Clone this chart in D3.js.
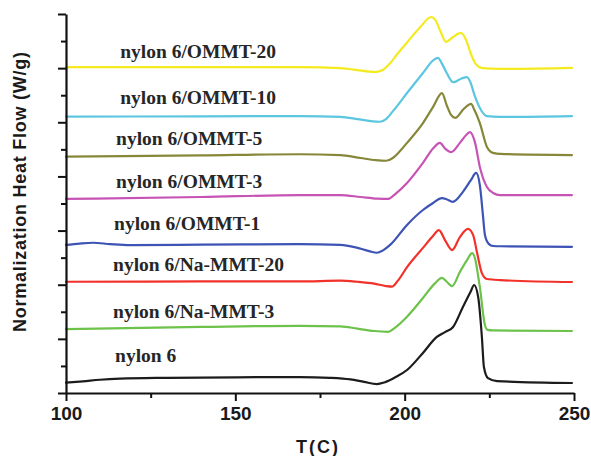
<!DOCTYPE html>
<html><head><meta charset="utf-8">
<script src="https://cdn.jsdelivr.net/npm/d3@7"></script>
<style>body{margin:0;background:#fff}svg{display:block}</style>
</head><body>
<svg id="c" width="591" height="456"></svg>
<script>
// ---- data (T in °C, normalized heat flow, stacked offsets) ----
const seriesNames = ["nylon 6/OMMT-20","nylon 6/OMMT-10","nylon 6/OMMT-5","nylon 6/OMMT-3","nylon 6/OMMT-1","nylon 6/Na-MMT-20","nylon 6/Na-MMT-3","nylon 6"];
const xTickValues = [100,150,200,250];
const xMinorTicks = [125,175,225];
const yTickValues = [0,1,2,3,4,5,6,7,8,9,10,11,12,13,14];

const ommt20 = [[100,12.04],[140,12.04],[169,12.04],[181,12.00],[186,11.93],[189.5,11.87],[191.6,11.86],[193.5,11.93],[195.5,12.15],[198,12.55],[200.7,12.95],[204.5,13.50],[207.8,13.89],[209.2,13.75],[210.6,13.35],[212.2,12.97],[214.3,13.15],[216.6,13.30],[218,13.08],[219.5,12.55],[221,12.15],[223,12.0],[228,11.97],[249.4,12.01]];
const ommt10 = [[100,10.21],[140,10.22],[169,10.23],[181,10.20],[186,10.12],[190,10.04],[192.7,10.02],[194.5,10.12],[196.6,10.42],[200.7,11.08],[205.4,11.82],[208.5,12.30],[209.8,12.38],[211.2,12.12],[212.5,11.8],[214.3,11.48],[216.8,11.62],[218.4,11.67],[219.5,11.45],[220.5,11.05],[222.2,10.53],[224.3,10.23],[228.2,10.20],[249.4,10.23]];
const ommt5 = [[100,8.73],[140,8.78],[169,8.82],[181,8.79],[187,8.68],[191.5,8.60],[194.5,8.58],[196.5,8.68],[198.5,8.92],[200.7,9.24],[205.4,9.97],[208.4,10.57],[211.0,11.08],[212.5,10.6],[213.7,10.27],[214.9,10.16],[217.5,10.50],[219.6,10.68],[220.6,10.45],[222.2,9.97],[224.3,9.09],[226.1,8.87],[228.2,8.83],[249.4,8.79]];
const ommt3 = [[100,7.17],[140,7.24],[169,7.31],[181,7.31],[187,7.24],[192,7.18],[195.2,7.17],[197.2,7.35],[200.7,7.76],[205.4,8.50],[208.5,9.05],[210.4,9.24],[212,9.02],[213.7,8.90],[216.3,9.24],[218.3,9.55],[219.3,9.64],[220.8,9.24],[222.2,8.35],[224.3,7.61],[226.1,7.39],[228.2,7.31],[249.4,7.31]];
const ommt1 = [[100,5.47],[104,5.52],[108,5.55],[113,5.50],[119,5.46],[140,5.48],[169,5.50],[181,5.47],[185.5,5.38],[189.5,5.24],[191.8,5.18],[193.5,5.26],[195.7,5.47],[200.7,6.21],[205.4,6.76],[208.4,7.02],[211.0,7.20],[212.5,7.15],[214.2,7.06],[217.2,7.43],[219.5,7.85],[221.1,8.13],[222.2,7.68],[223.1,6.58],[223.7,5.84],[224.9,5.50],[226.1,5.43],[228.2,5.42],[249.4,5.40]];
const na20 = [[100,4.11],[140,4.12],[169,4.12],[181,4.15],[186,4.11],[191,4.04],[194.5,3.95],[196.3,3.93],[198,4.15],[200.7,4.65],[205.4,5.36],[208.1,5.76],[210.1,6.02],[211.9,5.65],[214.0,5.28],[216.3,5.76],[218.7,6.06],[220.2,5.84],[221.4,5.17],[222.8,4.43],[224.3,4.21],[228.2,4.17],[249.4,4.10]];
const na3 = [[100,2.36],[140,2.44],[169,2.48],[181,2.46],[186,2.38],[191,2.29],[195.1,2.26],[197,2.40],[200.7,2.82],[205.4,3.51],[209.0,4.06],[211.0,4.25],[212.5,4.10],[214.0,3.95],[216.3,4.47],[218.4,4.91],[219.9,5.17],[221.0,4.85],[221.6,4.40],[222.2,3.92],[223.7,2.51],[224.5,2.33],[226,2.31],[249.4,2.29]];
const nylon6 = [[100,0.38],[105,0.43],[110,0.49],[116,0.53],[130,0.56],[150,0.58],[169,0.59],[178,0.56],[184,0.50],[188,0.41],[191.8,0.33],[194,0.39],[197.5,0.60],[200.7,0.85],[205.4,1.48],[209.5,2.07],[211.9,2.25],[214.3,2.44],[217.2,3.18],[219.5,3.75],[220.5,3.99],[221.7,3.55],[222.8,2.07],[223.4,0.96],[224.6,0.55],[227.3,0.44],[249.4,0.37]];

const seriesData = [ommt20, ommt10, ommt5, ommt3, ommt1, na20, na3, nylon6];

// ---- styling / layout ----
const colors = ["#f4ea1f","#5cc6e0","#87873a","#c753b5","#3d53b5","#f2322a","#6cc24a","#1c1c1c"];
// label anchor: left x (°C) and baseline (value units)
const labelAnchors = [[116.0,12.36],[116.0,10.67],[114.8,9.16],[114.8,7.57],[114.2,6.02],[113.9,4.51],[113.9,2.77],[114.5,1.15]];

const svg = d3.select("#c");
const x = d3.scaleLinear().domain([100,250]).range([66,574]);
const y = d3.scaleLinear().domain([0,14]).range([393,14]);

const line = d3.line().x(d=>x(d[0])).y(d=>y(d[1])).curve(d3.curveMonotoneX);

svg.append("g").selectAll("path").data(seriesData).join("path")
  .attr("d", line).attr("fill","none")
  .attr("stroke",(d,i)=>colors[i]).attr("stroke-width",2.2)
  .attr("stroke-linejoin","round").attr("stroke-linecap","round");

// series labels
svg.append("g").selectAll("text").data(seriesNames).join("text")
  .attr("x",(d,i)=>x(labelAnchors[i][0])).attr("y",(d,i)=>y(labelAnchors[i][1]))
  .attr("font-family","'Liberation Serif','Times New Roman',serif")
  .attr("font-weight","bold").attr("font-size",19.5).attr("fill","#262626")
  .text(d=>d);

// x axis
const gx = svg.append("g").attr("transform","translate(0,393)")
  .call(d3.axisBottom(x).tickValues(xTickValues).tickSize(8).tickSizeOuter(0).tickPadding(6).tickFormat(d3.format("d")));
svg.append("g").attr("transform","translate(0,393)")
  .call(d3.axisBottom(x).tickValues(xMinorTicks).tickSize(5).tickSizeOuter(0).tickFormat(""))
  .select(".domain").remove();
gx.selectAll("text").attr("font-family","'Liberation Sans',Arial,sans-serif")
  .attr("font-weight","bold").attr("font-size",19).attr("fill","#1a1a1a");

// y axis (no labels)
const gy = svg.append("g").attr("transform","translate(66,0)")
  .call(d3.axisLeft(y).tickValues(yTickValues).tickSizeOuter(0).tickFormat(""));
gy.selectAll(".tick line").attr("x2",d=> d%2===0 ? -8 : -5);

svg.selectAll(".domain").attr("stroke","#111").attr("stroke-width",2.2);
svg.selectAll(".tick line").attr("stroke","#111").attr("stroke-width",2);

// axis titles
svg.append("text").attr("transform","translate(26,192) rotate(-90)")
  .attr("text-anchor","middle")
  .attr("font-family","'Liberation Sans',Arial,sans-serif").attr("font-weight","bold")
  .attr("font-size",18).attr("fill","#1a1a1a")
  .attr("textLength",280).attr("lengthAdjust","spacing")
  .text("Normalization Heat Flow (W/g)");

svg.append("text").attr("x",318).attr("y",453).attr("text-anchor","middle")
  .attr("font-family","'Liberation Sans',Arial,sans-serif").attr("font-weight","bold")
  .attr("font-size",18).attr("letter-spacing",2).attr("fill","#1a1a1a")
  .text("T(C)");
</script>
</body></html>
